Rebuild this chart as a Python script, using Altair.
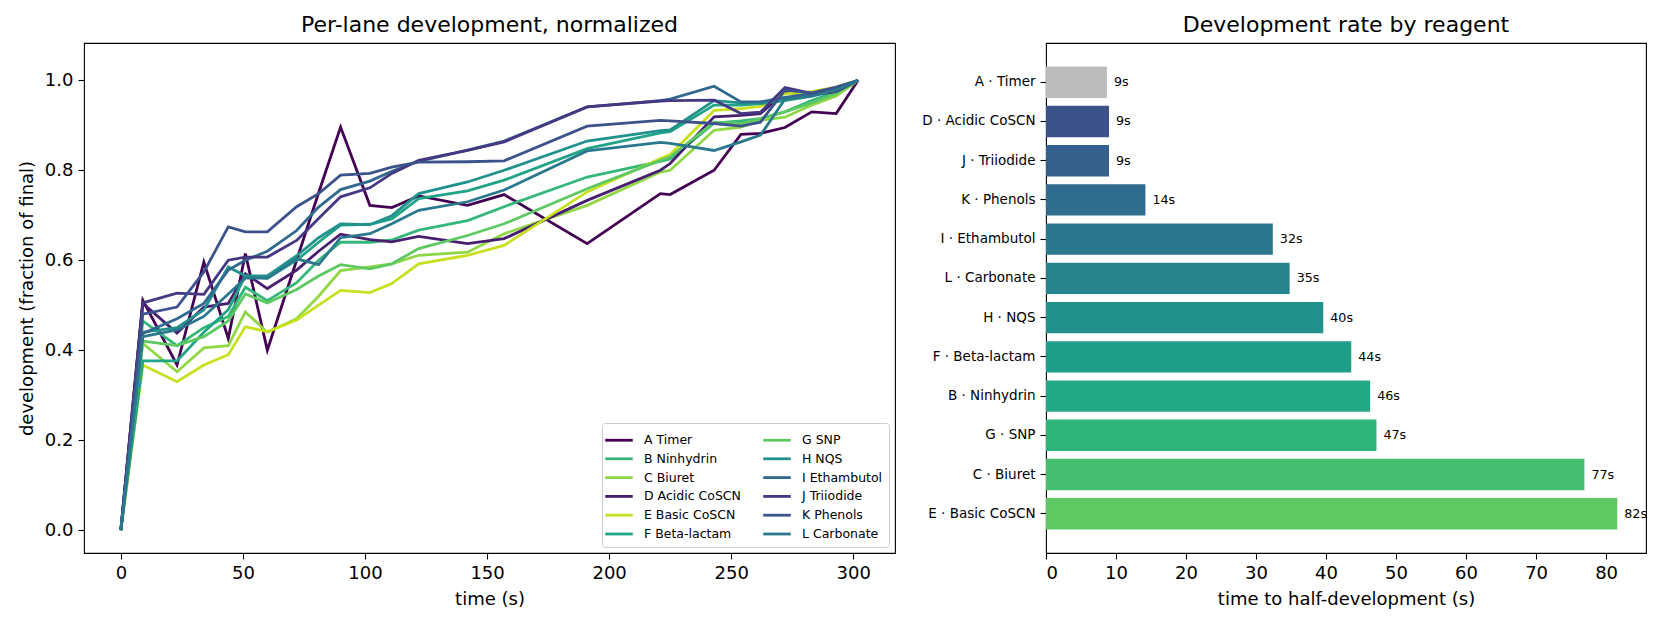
import altair as alt
import pandas as pd

# sample times (s), shared by every lane
times = [0, 9, 23, 34, 44, 51, 60, 72, 81, 90, 102, 111, 122, 142, 157,
         191, 221, 225, 243, 254, 262, 272, 283, 293, 302]

lanes = ['A', 'B', 'C', 'D', 'E', 'F', 'G', 'H', 'I', 'J', 'K', 'L']
names = ['Timer', 'Ninhydrin', 'Biuret', 'Acidic CoSCN', 'Basic CoSCN', 'Beta-lactam',
         'SNP', 'NQS', 'Ethambutol', 'Triiodide', 'Phenols', 'Carbonate']
line_colors = ['#440154', '#35b779', '#8fd744', '#481f70', '#c8e020', '#20a386',
               '#5ec962', '#21918c', '#31688e', '#453781', '#3b528b', '#2a788e']

dev = {
    'A': [0, .511, .367, .596, .426, .615, .400, .60, .75, .896, .722, .717, .743, .722, .746,
          .637, .748, .746, .800, .880, .882, .895, .930, .926, 1.0],
    'B': [0, .465, .41, .45, .475, .54, .51, .55, .60, .64, .64, .645, .667, .688, .719,
          .785, .82, .825, .905, .91, .915, .93, .955, .975, 1.0],
    'C': [0, .415, .352, .405, .41, .485, .44, .47, .52, .577, .585, .592, .611, .618, .659,
          .722, .796, .80, .889, .896, .911, .918, .945, .965, 1.0],
    'D': [0, .504, .438, .496, .504, .570, .537, .578, .62, .658, .646, .641, .653, .637, .648,
          .733, .80, .815, .919, .922, .926, .974, .968, .975, 1.0],
    'E': [0, .367, .330, .367, .39, .452, .441, .467, .50, .533, .528, .548, .592, .611, .633,
          .752, .826, .835, .933, .937, .942, .97, .975, .985, 1.0],
    'F': [0, .376, .376, .44, .49, .565, .56, .60, .64, .678, .68, .692, .737, .754, .778,
          .848, .883, .886, .945, .945, .948, .955, .965, .98, 1.0],
    'G': [0, .42, .41, .43, .465, .525, .505, .535, .565, .59, .581, .592, .626, .655, .681,
          .759, .822, .83, .907, .904, .915, .93, .95, .97, 1.0],
    'H': [0, .44, .45, .49, .585, .565, .565, .61, .65, .681, .679, .699, .748, .774, .80,
          .865, .888, .89, .955, .95, .95, .96, .97, .98, 1.0],
    'I': [0, .437, .470, .504, .578, .600, .620, .666, .718, .757, .776, .798, .820, .845, .865,
          .941, .955, .958, .987, .952, .952, .962, .970, .980, 1.0],
    'J': [0, .505, .527, .524, .600, .607, .607, .644, .693, .741, .761, .793, .822, .844, .863,
          .941, .954, .955, .956, .926, .929, .984, .971, .975, 1.0],
    'K': [0, .48, .496, .574, .674, .663, .663, .719, .748, .789, .793, .807, .818, .819, .821,
          .898, .911, .910, .904, .898, .907, .978, .972, .985, 1.0],
    'L': [0, .43, .445, .475, .525, .56, .56, .603, .59, .650, .659, .681, .711, .730, .756,
          .843, .862, .860, .844, .863, .878, .958, .965, .978, 1.0],
}

# half-development times, in bar order (top to bottom)
bar_lanes = ['A', 'D', 'J', 'K', 'I', 'L', 'H', 'F', 'B', 'G', 'C', 'E']
t_half = [8.7, 9.0, 9.0, 14.2, 32.4, 34.8, 39.6, 43.6, 46.3, 47.2, 76.9, 81.6]
bar_colors = ['#bbbbbb', '#3b528b', '#355f8d', '#2f6c8e', '#2a788e', '#25848e',
              '#21918c', '#1f9e89', '#22a884', '#2fb47c', '#44bf70', '#5ec962']

FONT = 'DejaVu Sans'

rows = []
for lane, name in zip(lanes, names):
    for t, v in zip(times, dev[lane]):
        rows.append({'lane': lane + ' ' + name, 't': t, 'dev': v})
lines_df = pd.DataFrame(rows)
full = [l + ' ' + n for l, n in zip(lanes, names)]

left = alt.Chart(lines_df).mark_line(strokeWidth=2.8).encode(
    x=alt.X('t:Q', title='time (s)',
            scale=alt.Scale(domain=[-15.1, 317.1], nice=False, zero=False),
            axis=alt.Axis(values=[0, 50, 100, 150, 200, 250, 300])),
    y=alt.Y('dev:Q', title='development (fraction of final)',
            scale=alt.Scale(domain=[-0.051, 1.083], nice=False, zero=False),
            axis=alt.Axis(values=[0, 0.2, 0.4, 0.6, 0.8, 1.0], format='.1f')),
    color=alt.Color('lane:N', scale=alt.Scale(domain=full, range=line_colors),
                    legend=alt.Legend(title=None, orient='none', legendX=518, legendY=380,
                                      columns=2,
                                      symbolType='M-1.45,0H1.45', symbolSize=361,
                                      symbolStrokeWidth=2.8,
                                      labelFont=FONT, labelFontSize=12.5, labelOffset=14,
                                      columnPadding=16, rowPadding=0.8, padding=6,
                                      strokeColor='#cccccc', fillColor='white', cornerRadius=3)),
    order=alt.Order('t:Q'),
).properties(width=811, height=510, title='Per-lane development, normalized')

bar_df = pd.DataFrame({
    'reagent': bar_lanes,
    'label': [l + ' · ' + names[lanes.index(l)] for l in bar_lanes],
    't': t_half,
})
bar_order = list(bar_df['label'])

base = alt.Chart(bar_df).transform_calculate(
    txt="format(datum.t, '.0f') + 's'"
).encode(
    y=alt.Y('label:N', sort=bar_order, title=None,
            scale=alt.Scale(paddingInner=0.2, paddingOuter=0.6),
            axis=alt.Axis(labelFontSize=13.5)),
    x=alt.X('t:Q', title='time to half-development (s)',
            scale=alt.Scale(domain=[0, 85.7], nice=False),
            axis=alt.Axis(values=list(range(0, 90, 10)))),
)
bars = base.mark_bar().encode(
    color=alt.Color('reagent:N', scale=alt.Scale(domain=bar_lanes, range=bar_colors), legend=None)
)
labels = base.mark_text(align='left', baseline='middle', dx=7, fontSize=12.7,
                        font=FONT, color='black').encode(text='txt:N')
right = (bars + labels).properties(width=600, height=510, title='Development rate by reagent')

chart = alt.hconcat(left, right, spacing=25).resolve_scale(
    color='independent'
).properties(
    padding={'left': 9, 'top': 5, 'right': 3, 'bottom': 5}
).configure_view(
    stroke='black', strokeWidth=1.1
).configure_axis(
    grid=False, domain=False, tickColor='black', tickSize=6, tickWidth=1.1,
    labelPadding=5, labelFont=FONT, labelFontSize=18, labelColor='black',
    titleFont=FONT, titleFontSize=18, titleFontWeight='normal', titleColor='black',
    titlePadding=8
).configure_title(
    font=FONT, fontSize=22, fontWeight='normal', color='black', anchor='middle', offset=6
)

chart.save('out.html', embed_options={'renderer': 'svg', 'actions': False})
